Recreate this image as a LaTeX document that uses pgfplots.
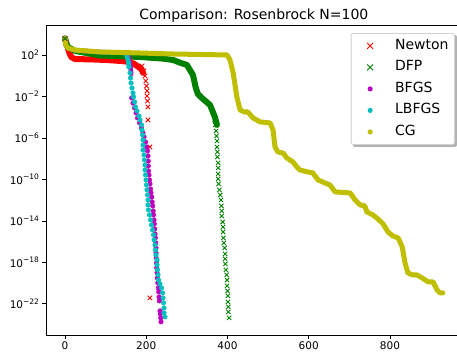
\documentclass[border=0pt]{standalone}
\usepackage{fontspec}
\setmainfont{DejaVu Sans}
\usepackage{pgfplots}
\pgfplotsset{compat=1.18}
\pgfdeclarelayer{background}
\pgfsetlayers{background,main}
\definecolor{mred}{rgb}{1,0,0}
\definecolor{mgreen}{rgb}{0,0.5,0}
\definecolor{mmag}{rgb}{0.75,0,0.75}
\definecolor{mcyan}{rgb}{0,0.75,0.75}
\definecolor{molive}{rgb}{0.75,0.75,0}
\newcommand{\tp}[1]{10\raisebox{0.42em}{\fontsize{7.5}{8}\selectfont #1}}
\begin{document}
\begin{tikzpicture}
\begin{axis}[
  scale only axis, width=415.7pt, height=310pt,
  ymode=log, xmin=-46.8, xmax=976.5, ymin=1e-25, ymax=7.76e4,
  xtick={0,200,400,600,800}, xticklabels={0,200,400,600,800},
  ytick={1e2,1e-2,1e-6,1e-10,1e-14,1e-18,1e-22},
  yticklabels={\tp{2},\tp{−2},\tp{−6},\tp{−10},\tp{−14},\tp{−18},\tp{−22}},
  yminorticks=false,
  tick align=outside, tick pos=left, major tick length=3.5pt,
  every tick/.style={black, line width=0.8pt},
  axis line style={line width=0.8pt},
  ticklabel style={font=\fontsize{10.5}{12}\selectfont},
  title={Comparison: Rosenbrock N=100},
  every axis title shift=0pt,
  title style={font=\fontsize{14}{17}\selectfont, anchor=base, at={(0.5,1)}, yshift=6pt},
  legend cell align=left,
  legend style={name=leg, at={(rel axis cs:1,1)}, anchor=north east, xshift=-6.7pt, yshift=-8pt,
    draw=gray!35, rounded corners=2pt, fill=white, line width=0.8pt,
    font=\fontsize{14}{17}\selectfont,
    inner xsep=5pt, inner ysep=5pt, row sep=6.5pt,
    nodes={text height=10pt, text depth=3pt, inner sep=1pt},
    /tikz/every odd column/.append style={column sep=10pt}},
]
% Newton
\addplot[forget plot, color=mred, line width=6pt, line join=round, line cap=round] coordinates {
(0,3.9e3)(4,1.2e3)(8,3.3e2)(12,1.2e2)(16,60)(25,40)(60,38)(100,33)(140,26)(160,21)(170,14)(180,7.4)(186,5)(190,3)(192,1.9)};
\addplot[forget plot, only marks, color=mred, mark=x, mark size=3.2pt, line width=0.9pt] coordinates {
(0,3.9e3)(189.5,8.7)(194,2.9)(197,0.95)(199,0.31)(200.6,0.10)(202,3.4e-2)(202,1.1e-2)(203,3.7e-3)(204,9.8e-4)(204,5.4e-5)(209,1.35e-7)(209,3.8e-22)};
% DFP
\addplot[forget plot, color=mgreen, line width=6pt, line join=round, line cap=round] coordinates {
(0,3.9e3)(3,1.2e3)(7,5.9e2)(25,2.45e2)(86,89)(185,64)(240,45)(266,33)(285,17)(300,11)(315,1.17)(322,6.6e-2)(327,1.74e-2)(337,7.2e-3)(357,1.5e-3)(369,1.05e-4)(374,1.8e-5)};
\addplot[forget plot, only marks, color=mgreen, mark=x, mark size=3pt, line width=0.9pt] coordinates {
(0,3.9e3)(368,5.4e-5)(370,1.8e-5)(372,4.7e-6)(373,1.55e-6)(374,5.1e-7)(374,1.35e-7)(375,4.5e-8)(375,1.48e-8)(377,3.9e-9)(377,1.29e-9)(377,3.4e-10)(377,1.12e-10)(378,3.7e-11)(380,9.8e-12)(382,3.2e-12)(384,1.05e-12)(385,2.8e-13)(386,9.1e-14)(386,3.0e-14)(388,7.9e-15)(389,2.6e-15)(389,8.7e-16)(390,2.3e-16)(391,7.6e-17)(393,2.5e-17)(394,6.6e-18)(394,2.2e-18)(395,7.2e-19)(396,1.9e-19)(398,6.3e-20)(399,2.0e-20)(399,5.4e-21)(400,1.78e-21)(401,5.9e-22)(401,1.55e-22)(402,5.1e-23)(402,1.7e-23)(404,4.5e-24)};
% BFGS
\addplot[forget plot, color=mmag, line width=4.5pt, line join=round, line cap=round] coordinates {
(0,3.9e3)(2,9.1e2)(7,4.5e2)(25,2.8e2)(86,1.9e2)(150,1.6e2)(156,65)(160,21)(163,1.5)};
\addplot[forget plot, only marks, color=mmag, mark=*, mark size=2.3pt, mark options={draw=none}] coordinates {
(164.2,7.2e-3)(167.4,2.3e-3)(171.1,7.8e-4)(174.8,2.6e-4)(178.5,8.5e-5)(183.4,2.8e-5)(188.3,9.1e-6)(192,3.0e-6)(194.5,1.26e-6)(198.2,4.1e-7)(201.1,1.35e-7)(203.1,5.6e-8)(204.3,1.86e-8)(205,6.0e-9)(205,2.0e-9)(205.5,6.6e-10)(206.8,2.7e-10)(208,8.9e-11)(209.2,3.7e-11)(210.5,1.2e-11)(211.7,5.0e-12)(213.4,2.0e-12)(214.6,6.8e-13)(215.9,2.8e-13)(217.1,9.1e-14)(217.8,3.8e-14)(219.1,1.26e-14)(219.8,5.1e-15)(220.8,1.7e-15)(221.5,5.6e-16)(222.3,2.3e-16)(223.3,7.6e-17)(224,2.5e-17)(224,8.3e-18)(224.5,2.7e-18)(225.2,8.9e-19)(225.7,3.0e-19)(226.5,9.8e-20)(227.2,3.2e-20)(228.4,1.05e-20)(229.7,3.5e-21)(230.6,1.45e-21)(231.4,4.7e-22)(232.1,1.95e-22)(233.8,2.1e-23)(234.6,1.1e-23)(235.6,4.5e-24)(236.3,1.86e-24)};
% LBFGS
\addplot[forget plot, color=mcyan, line width=4.5pt, line join=round, line cap=round] coordinates {
(0,3.9e3)(2,9.1e2)(7,4.5e2)(25,2.8e2)(86,1.9e2)(150,1.6e2)(153,65)(155.8,21)(157.5,6.9)};
\addplot[forget plot, only marks, color=mcyan, mark=*, mark size=2.3pt, mark options={draw=none}] coordinates {
(155.8,21)(157.5,6.9)(160,1.86)(161.2,0.60)(162.5,0.20)(164.9,6.6e-2)(167.4,2.2e-2)(168.6,8.9e-3)(171.1,3.0e-3)(173.5,9.8e-4)(177.2,4.0e-4)(182.2,1.3e-4)(184.6,5.4e-5)(188.3,1.8e-5)(189.5,5.9e-6)(190.8,1.95e-6)(192,6.5e-7)(192,2.1e-7)(192,6.9e-8)(194.5,2.3e-8)(195.7,7.6e-9)(196.9,2.5e-9)(196.9,8.3e-10)(198.2,2.7e-10)(199.4,8.9e-11)(200.6,2.95e-11)(201.8,9.8e-12)(203.1,3.2e-12)(204.3,1.05e-12)(204.3,3.5e-13)(205.5,1.15e-13)(208,3.8e-14)(210.5,1.26e-14)(212.9,4.1e-15)(215.4,1.35e-15)(217.8,4.5e-16)(219.1,1.48e-16)(221.5,4.9e-17)(222.8,1.58e-17)(224,5.2e-18)(226.5,1.74e-18)(226.5,5.8e-19)(227.7,1.9e-19)(228.9,6.3e-20)(230.2,2.0e-20)(233.8,8.5e-21)(237.5,3.5e-21)(240,1.15e-21)(241.2,3.8e-22)(242.5,1.26e-22)(243.7,4.1e-23)(243.7,1.35e-23)(246.2,5.6e-24)};
% CG
\addplot[forget plot, color=molive, line width=5pt, line join=round, line cap=round] coordinates {
(0,3.9e3)(2,9.1e2)(7,4.7e2)(25,3.0e2)(86,1.95e2)(185,1.55e2)(258,1.26e2)(332,1.12e2)(399,1.0e2)(406,33)(414,1.86)(423,8.9e-3)(431,5.0e-4)(441,3.2e-4)(450,3.2e-4)(463,8.5e-5)(480,3.5e-5)(505,2.8e-5)(512,5.9e-6)(517,1.35e-7)(524,4.5e-8)(537,3.5e-8)(546,1.17e-8)(561,4.9e-9)(571,1.58e-9)(578,8.3e-10)(598,5.2e-10)(610,4.3e-10)(623,8.9e-11)(640,4.6e-11)(652,2.95e-11)(665,6.3e-12)(702,5.0e-12)(714,1.05e-12)(726,3.5e-13)(738,2.8e-13)(743,7.4e-14)(758,3.8e-14)(770,1.58e-14)(783,5.1e-15)(795,8.7e-16)(807,3.5e-16)(820,2.3e-16)(830,3.2e-17)(837,8.9e-19)(844,9.8e-20)(854,6.3e-20)(866,6.3e-20)(879,3.2e-20)(894,1.32e-20)(906,1.32e-20)(916,2.2e-21)(923,1.15e-21)(930,1.15e-21)};
% legend
\addlegendimage{legend image code/.code={\path[draw=none,fill=none] (0pt,-3pt) rectangle (28pt,3pt); \draw[mred, line width=0.9pt, rounded corners=0pt] (11pt,-3pt)--(17pt,3pt) (11pt,3pt)--(17pt,-3pt);}}
\addlegendentry{Newton}
\addlegendimage{legend image code/.code={\path[draw=none,fill=none] (0pt,-3pt) rectangle (28pt,3pt); \draw[mgreen, line width=0.9pt, rounded corners=0pt] (11pt,-3pt)--(17pt,3pt) (11pt,3pt)--(17pt,-3pt);}}
\addlegendentry{DFP}
\addlegendimage{legend image code/.code={\path[draw=none,fill=none] (0pt,-3pt) rectangle (28pt,3pt); \fill[mmag] (14pt,0pt) circle (2.1pt);}}
\addlegendentry{BFGS}
\addlegendimage{legend image code/.code={\path[draw=none,fill=none] (0pt,-3pt) rectangle (28pt,3pt); \fill[mcyan] (14pt,0pt) circle (2.1pt);}}
\addlegendentry{LBFGS}
\addlegendimage{legend image code/.code={\path[draw=none,fill=none] (0pt,-3pt) rectangle (28pt,3pt); \fill[molive] (14pt,0pt) circle (2.1pt);}}
\addlegendentry{CG}
\end{axis}
\begin{pgfonlayer}{background}
\fill[black, opacity=0.3, rounded corners=2pt] ([xshift=2pt,yshift=-2pt]leg.south west) rectangle ([xshift=2pt,yshift=-2pt]leg.north east);
\end{pgfonlayer}
\pgfresetboundingbox
\useasboundingbox (-46pt,-18pt) rectangle (411pt,335pt);
\end{tikzpicture}
\end{document}
